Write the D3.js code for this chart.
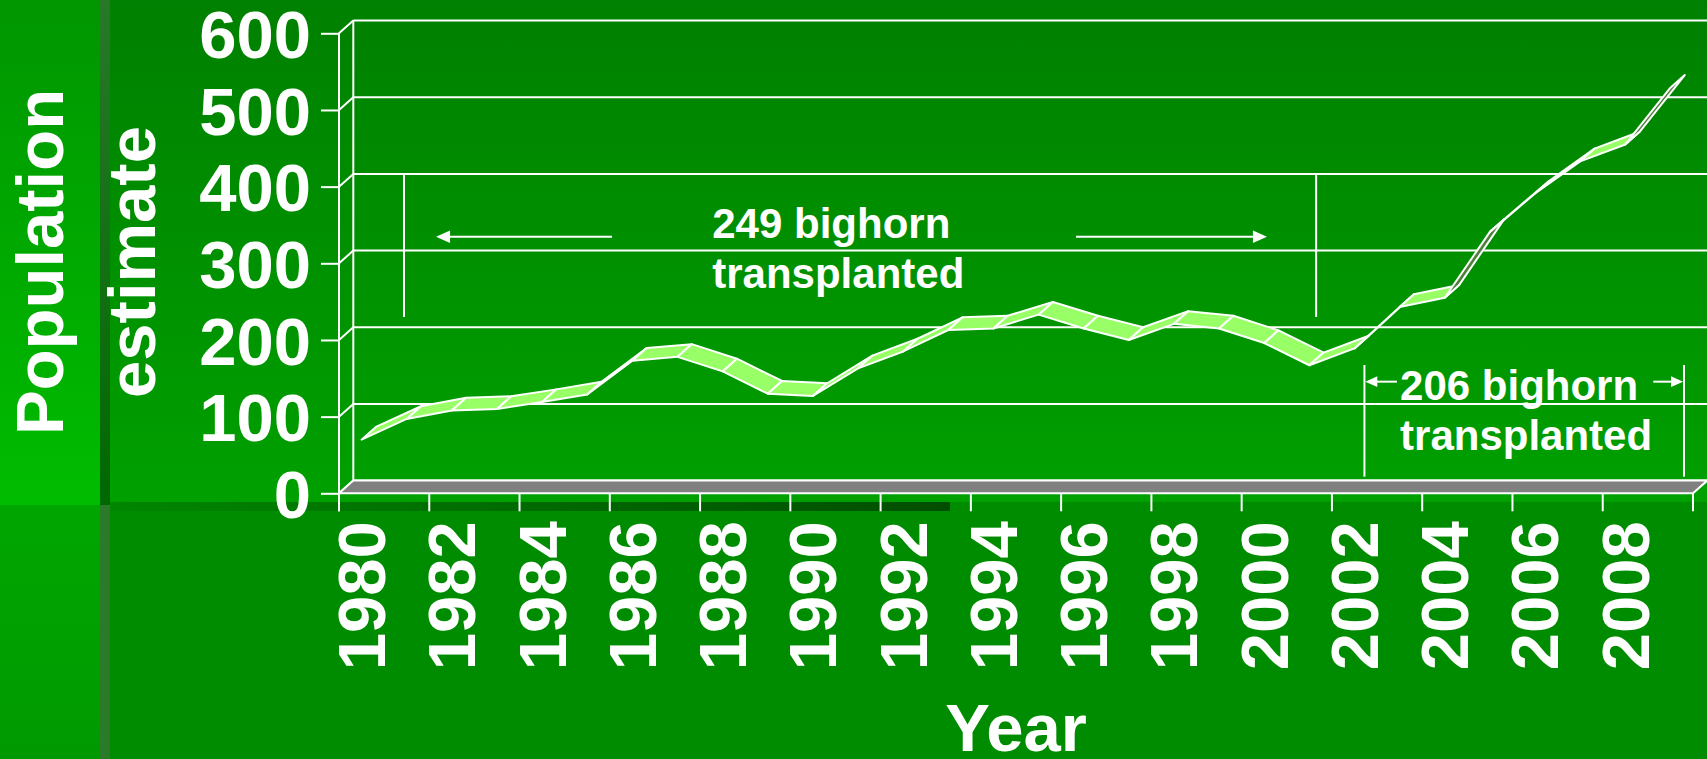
<!DOCTYPE html>
<html>
<head>
<meta charset="utf-8">
<script src="https://cdn.jsdelivr.net/npm/d3@7"></script>
<style>
  html, body { margin: 0; padding: 0; background: #008c00; }
  svg { display: block; }
  text { font-family: "Liberation Sans", Arial, sans-serif; font-weight: bold; fill: #ffffff; }
</style>
</head>
<body>
<svg id="chart" width="1707" height="759"></svg>
<script>
// ---------------- data ----------------
const years = [1980,1981,1982,1983,1984,1985,1986,1987,1988,1989,
               1990,1991,1992,1993,1994,1995,1996,1997,1998,1999,
               2000,2001,2002,2003,2004,2005,2006,2007,2008,2009];
const population = [70,97,108,110,119,129,173,178,159,130,
                    127,163,185,213,215,233,215,200,221,215,
                    196,167,189,243,255,341,391,433,455,529];
const yTickValues = [0,100,200,300,400,500,600];
const xTickLabels = ["1980","1982","1984","1986","1988","1990","1992","1994",
                     "1996","1998","2000","2002","2004","2006","2008"];
const yTitleLines = ["Population","estimate"];
const xTitle = "Year";
const note1Lines = ["249 bighorn","transplanted"];
const note2Lines = ["206 bighorn","transplanted"];

// ---------------- layout ----------------
const W = 1707, H = 759;
const plot = {left: 339, right: 1693, top: 33.3, bottom: 493.3};
const depth = {dx: 14.3, dy: -12.7};
const tickLen = 18;

const svg = d3.select("#chart");
const defs = svg.append("defs");

function vGrad(id, c0, c1, horizontal) {
  const gr = defs.append("linearGradient").attr("id", id)
    .attr("x1", 0).attr("y1", 0).attr("x2", horizontal ? 1 : 0).attr("y2", horizontal ? 0 : 1);
  gr.append("stop").attr("offset", "0%").attr("stop-color", c0);
  gr.append("stop").attr("offset", "100%").attr("stop-color", c1);
}
vGrad("gMain", "#008000", "#00a000");
vGrad("gStrip", "#009600", "#00bc00");
vGrad("gStripLow", "#00a600", "#009a00");
vGrad("gSep", "#287828", "#006800");
vGrad("gBand", "#008600", "#004e00", true);

const bgTopH = 502, stripW = 100, sepW = 10;
svg.append("rect").attr("x",0).attr("y",0).attr("width",W).attr("height",H).attr("fill","#008c00");
svg.append("rect").attr("x",stripW).attr("y",0).attr("width",W-stripW).attr("height",bgTopH).attr("fill","url(#gMain)");
svg.append("rect").attr("x",0).attr("y",0).attr("width",stripW).attr("height",bgTopH+3).attr("fill","url(#gStrip)");
svg.append("rect").attr("x",0).attr("y",bgTopH+3).attr("width",stripW).attr("height",H-bgTopH-3).attr("fill","url(#gStripLow)");
svg.append("rect").attr("x",stripW).attr("y",0).attr("width",sepW).attr("height",bgTopH+3).attr("fill","url(#gSep)");
svg.append("rect").attr("x",stripW).attr("y",bgTopH+3).attr("width",sepW).attr("height",H-bgTopH-3).attr("fill","#2a7a2a");
svg.append("rect").attr("x",stripW+sepW).attr("y",bgTopH).attr("width",950-stripW-sepW).attr("height",9).attr("fill","url(#gBand)");

// ---------------- scales ----------------
const x = d3.scaleBand().domain(years).range([plot.left, plot.right]).padding(0);
const xYear = d3.scaleLinear().domain([years[0]-0.5, years[years.length-1]+0.5]).range([plot.left, plot.right]);
const y = d3.scaleLinear().domain([0, 600]).range([plot.bottom, plot.top]);
const cx = yr => x(yr) + x.bandwidth()/2;

const white = "#ffffff";
const g = svg.append("g");

// back wall gridlines
g.selectAll("line.grid").data(yTickValues).join("line")
  .attr("x1", plot.left + depth.dx).attr("x2", plot.right + depth.dx)
  .attr("y1", d => y(d) + depth.dy).attr("y2", d => y(d) + depth.dy)
  .attr("stroke", white).attr("stroke-width", 2);
// back wall left edge
g.append("line")
  .attr("x1", plot.left + depth.dx).attr("x2", plot.left + depth.dx)
  .attr("y1", y(600) + depth.dy).attr("y2", y(0) + depth.dy)
  .attr("stroke", white).attr("stroke-width", 2);
// side wall diagonals
g.selectAll("line.diag").data(yTickValues).join("line")
  .attr("x1", plot.left).attr("x2", plot.left + depth.dx)
  .attr("y1", d => y(d)).attr("y2", d => y(d) + depth.dy)
  .attr("stroke", white).attr("stroke-width", 2);

// floor
const floorPts = [[plot.left, y(0)], [plot.right, y(0)],
                  [plot.right + depth.dx, y(0) + depth.dy], [plot.left + depth.dx, y(0) + depth.dy]];
g.append("polygon").attr("points", floorPts.map(p => p.join(",")).join(" "))
  .attr("fill", "#808080").attr("stroke", white).attr("stroke-width", 2).attr("stroke-linejoin","miter");

// front y axis line (extends down to tick length)
g.append("line").attr("x1", plot.left).attr("x2", plot.left)
  .attr("y1", y(600)).attr("y2", y(0) + tickLen)
  .attr("stroke", white).attr("stroke-width", 2);

// y axis ticks + labels
const yAxis = d3.axisLeft(y).tickValues(yTickValues).tickSize(tickLen).tickPadding(10);
const gy = g.append("g").attr("transform", `translate(${plot.left},0)`).call(yAxis);
gy.select(".domain").remove();
gy.selectAll(".tick line").attr("stroke", white).attr("stroke-width", 2);
gy.selectAll(".tick text").attr("fill", white).style("font-size","67px")
  .style("font-family","'Liberation Sans', Arial, sans-serif").style("font-weight","bold")
  .attr("dy","0.36em");

// x axis ticks (category boundaries every 2 years, plus the end)
const xTickPos = xTickLabels.map(l => x(+l)).concat([plot.right]);
g.selectAll("line.xtick").data(xTickPos).join("line")
  .attr("x1", d => d).attr("x2", d => d)
  .attr("y1", y(0)).attr("y2", y(0) + tickLen)
  .attr("stroke", white).attr("stroke-width", 2);
// x labels
g.selectAll("text.xlab").data(xTickLabels).join("text")
  .attr("transform", d => `translate(${cx(+d)},${y(0) + tickLen + 10}) rotate(-90)`)
  .attr("text-anchor", "end").attr("dy", "0.35em")
  .style("font-size", "67px").text(d => d);

// ---------------- ribbon ----------------
const pts = years.map((yr, i) => ({x: cx(yr), y: y(population[i])}));
const segs = d3.pairs(pts);
g.selectAll("polygon.seg").data(segs).join("polygon")
  .attr("points", ([a, b]) => [[a.x, a.y], [b.x, b.y], [b.x + depth.dx, b.y + depth.dy], [a.x + depth.dx, a.y + depth.dy]]
      .map(p => p.join(",")).join(" "))
  .attr("fill", ([a, b]) => {
      const cross = (b.x - a.x) * depth.dy - (b.y - a.y) * depth.dx;
      return cross < 0 ? "#99ff66" : "#4f7f3a";
  })
  .attr("stroke", white).attr("stroke-width", 2).attr("stroke-linejoin", "round");

// ---------------- annotations ----------------
const ann = g.append("g");
function vline(yr, v0, v1) {
  ann.append("line").attr("x1", xYear(yr)).attr("x2", xYear(yr))
    .attr("y1", y(v0)).attr("y2", y(v1)).attr("stroke", white).attr("stroke-width", 2);
}
function arrow(fromYr, toYr, v, head) {
  const x0 = xYear(fromYr), x1 = xYear(toYr), yy = y(v);
  const dir = Math.sign(x1 - x0);
  ann.append("line").attr("x1", x0).attr("x2", x1 - dir * head * 0.9).attr("y1", yy).attr("y2", yy)
    .attr("stroke", white).attr("stroke-width", 2);
  ann.append("polygon")
    .attr("points", [[x1, yy], [x1 - dir * head, yy - head * 0.45], [x1 - dir * head, yy + head * 0.45]].map(p => p.join(",")).join(" "))
    .attr("fill", white);
}
// first period
vline(1980.94, 416.5, 230);
vline(2001.15, 416.5, 230);
arrow(1985.55, 1981.65, 334.7, 14);
arrow(1995.83, 2000.06, 334.7, 14);
ann.selectAll("text.n1").data(note1Lines).join("text")
  .attr("x", xYear(1987.77)).attr("y", (d, i) => y(333 - i * 65.2))
  .style("font-size", "42px").text(d => d);
// second period
vline(2002.22, 167.3, 21.7);
vline(2009.3, 167.3, 21.7);
arrow(2002.94, 2002.24, 145.6, 12);
arrow(2008.62, 2009.28, 145.6, 12);
ann.selectAll("text.n2").data(note2Lines).join("text")
  .attr("x", xYear(2003.01)).attr("y", (d, i) => y(121.7 - i * 65.2))
  .style("font-size", "42px").text(d => d);

// ---------------- titles ----------------
const yTitleX = [63, 155];
svg.selectAll("text.ytitle").data(yTitleLines).join("text")
  .attr("transform", (d, i) => `translate(${yTitleX[i]},${262}) rotate(-90)`)
  .attr("text-anchor", "middle").style("font-size", "67px").text(d => d);
svg.append("text").attr("x", (plot.left + plot.right) / 2).attr("y", 751)
  .attr("text-anchor", "middle").style("font-size", "67px").text(xTitle);
</script>
</body>
</html>
